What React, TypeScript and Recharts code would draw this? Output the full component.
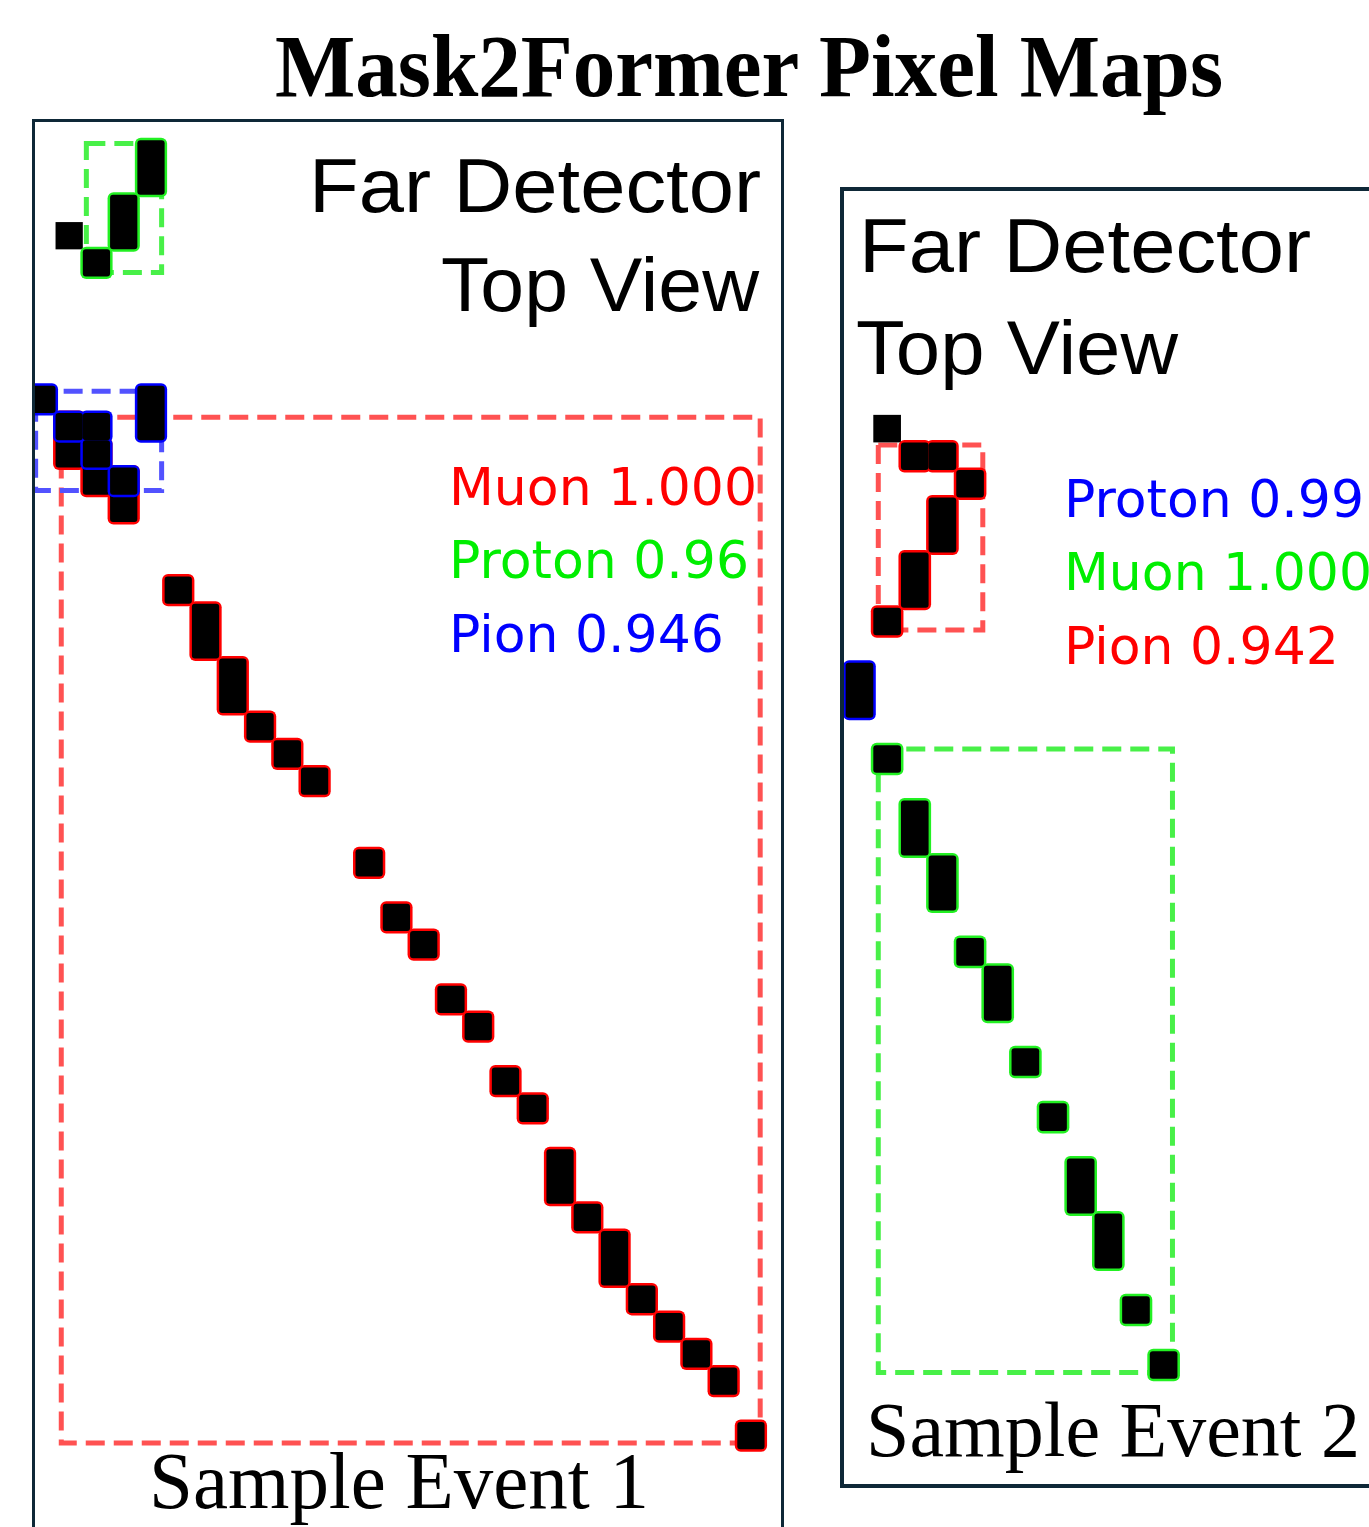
import React from 'react';
import { ScatterChart, Scatter, XAxis, YAxis, ReferenceArea } from 'recharts';

type Cell = { c: number; r: number; h: number };
type Box = { x1: number; x2: number; y1: number; y2: number };
type Mask = { cells: Cell[]; edge: string; dash: string; box?: Box };

const RED = '#ff0000';
const GREEN = '#22f022';
const BLUE = '#0000ff';
const RED_DASH = '#ff5252';
const GREEN_DASH = '#48f048';
const BLUE_DASH = '#5252ff';
const FRAME = '#0e2837';

// hits are (column, row, height in rows); rows run downwards
// --- sample event 1 ---
const ev1Loose: Cell[] = [{ c: 1, r: 3, h: 1 }];
const ev1Muon: Cell[] = [
  { c: 1, r: 10, h: 2 }, { c: 2, r: 11, h: 2 }, { c: 3, r: 12, h: 2 },
  { c: 5, r: 16, h: 1 }, { c: 6, r: 17, h: 2 }, { c: 7, r: 19, h: 2 },
  { c: 8, r: 21, h: 1 }, { c: 9, r: 22, h: 1 }, { c: 10, r: 23, h: 1 },
  { c: 12, r: 26, h: 1 }, { c: 13, r: 28, h: 1 }, { c: 14, r: 29, h: 1 },
  { c: 15, r: 31, h: 1 }, { c: 16, r: 32, h: 1 }, { c: 17, r: 34, h: 1 },
  { c: 18, r: 35, h: 1 }, { c: 19, r: 37, h: 2 }, { c: 20, r: 39, h: 1 },
  { c: 21, r: 40, h: 2 }, { c: 22, r: 42, h: 1 }, { c: 23, r: 43, h: 1 },
  { c: 24, r: 44, h: 1 }, { c: 25, r: 45, h: 1 }, { c: 26, r: 47, h: 1 },
];
const ev1Proton: Cell[] = [
  { c: 4, r: 0, h: 2 }, { c: 3, r: 2, h: 2 }, { c: 2, r: 4, h: 1 },
];
const ev1Pion: Cell[] = [
  { c: 0, r: 9, h: 1 }, { c: 4, r: 9, h: 2 }, { c: 1, r: 10, h: 1 },
  { c: 2, r: 10, h: 1 }, { c: 2, r: 11, h: 1 }, { c: 3, r: 12, h: 1 },
];
const ev1MuonBox: Box = { x1: 1.21, x2: 26.84, y1: 10.16, y2: 47.77 };
const ev1ProtonBox: Box = { x1: 2.13, x2: 4.89, y1: 0.12, y2: 4.85 };
const ev1PionBox: Box = { x1: 0.27, x2: 4.89, y1: 9.2, y2: 12.84 };
const ev1Labels = [
  { name: 'Muon', score: '1.000', color: RED },
  { name: 'Proton', score: '0.96', color: '#00ee00' },
  { name: 'Pion', score: '0.946', color: BLUE },
];

// --- sample event 2 ---
const ev2Loose: Cell[] = [{ c: 1, r: 0, h: 1 }];
const ev2Pion: Cell[] = [
  { c: 2, r: 1, h: 1 }, { c: 3, r: 1, h: 1 }, { c: 4, r: 2, h: 1 },
  { c: 3, r: 3, h: 2 }, { c: 2, r: 5, h: 2 }, { c: 1, r: 7, h: 1 },
];
const ev2Proton: Cell[] = [{ c: 0, r: 9, h: 2 }];
const ev2Muon: Cell[] = [
  { c: 1, r: 12, h: 1 }, { c: 2, r: 14, h: 2 }, { c: 3, r: 16, h: 2 },
  { c: 4, r: 19, h: 1 }, { c: 5, r: 20, h: 2 }, { c: 6, r: 23, h: 1 },
  { c: 7, r: 25, h: 1 }, { c: 8, r: 27, h: 2 }, { c: 9, r: 29, h: 2 },
  { c: 10, r: 32, h: 1 }, { c: 11, r: 34, h: 1 },
];
const ev2PionBox: Box = { x1: 1.18, x2: 4.96, y1: 1.09, y2: 7.81 };
const ev2MuonBox: Box = { x1: 1.18, x2: 11.82, y1: 12.13, y2: 34.77 };
const ev2Labels = [
  { name: 'Proton', score: '0.99', color: BLUE },
  { name: 'Muon', score: '1.000', color: '#00ee00' },
  { name: 'Pion', score: '0.942', color: RED },
];

const SANS = "'Liberation Sans', Arial, sans-serif";
const SERIF = "'Liberation Serif', 'Times New Roman', serif";
const MPL = "'DejaVu Sans', sans-serif";

const centre = (cells: Cell[]) =>
  cells.map((d) => ({ ...d, x: d.c + 0.5, y: d.r + d.h / 2 }));

interface PixelMapProps {
  masks: Mask[];
  loose: Cell[];
  pitchX: number;
  pitchY: number;
  xDomain: [number, number];
  yDomain: [number, number];
  left: number;
  top: number;
}

function PixelMap({ masks, loose, pitchX, pitchY, xDomain, yDomain, left, top }: PixelMapProps) {
  const width = (xDomain[1] - xDomain[0]) * pitchX;
  const height = (yDomain[1] - yDomain[0]) * pitchY;

  // cell glyph: coloured halo for a mask outline, black body on top
  const shape = (mode: 'edge' | 'fill' | 'plain', color = '#000') => (p: any) => {
    const w = pitchX;
    const h = p.payload.h * pitchY;
    const x = p.cx - w / 2;
    const y = p.cy - h / 2;
    if (mode === 'edge') {
      return <rect x={x - 2.5} y={y - 2.5} width={w + 5} height={h + 5} rx={6} fill={color} />;
    }
    return <rect x={x} y={y} width={w} height={h} rx={mode === 'fill' ? 3 : 0} fill="#000" />;
  };

  // dashed bounding box of a mask
  const dashedBox = (color: string) => (p: any) => (
    <rect
      x={p.x}
      y={p.y}
      width={p.width}
      height={p.height}
      fill="none"
      stroke={color}
      strokeWidth={5}
      strokeDasharray="19 9"
    />
  );

  return (
    <div style={{ position: 'absolute', left, top, width, height }}>
      <ScatterChart width={width} height={height} margin={{ top: 0, right: 0, bottom: 0, left: 0 }}>
        <XAxis type="number" dataKey="x" domain={xDomain} hide allowDataOverflow />
        <YAxis type="number" dataKey="y" domain={yDomain} hide reversed allowDataOverflow />
        <Scatter data={centre(loose)} shape={shape('plain')} isAnimationActive={false} />
        {masks.flatMap((m, i) => [
          <Scatter key={`e${i}`} data={centre(m.cells)} shape={shape('edge', m.edge)} isAnimationActive={false} />,
          <Scatter key={`f${i}`} data={centre(m.cells)} shape={shape('fill')} isAnimationActive={false} />,
        ])}
        {masks.map((m, i) =>
          m.box ? (
            <ReferenceArea key={`b${i}`} {...m.box} ifOverflow="visible" shape={dashedBox(m.dash)} />
          ) : null
        )}
      </ScatterChart>
    </div>
  );
}

function Labels({ x, y, items }: { x: number; y: number; items: { name: string; score: string; color: string }[] }) {
  return (
    <>
      {items.map((d, i) => (
        <text key={d.name} x={x} y={y + i * 73.4} fontFamily={MPL} fontSize={52} fill={d.color}>
          {`${d.name} ${d.score}`}
        </text>
      ))}
    </>
  );
}

export default function App() {
  const ev1Masks: Mask[] = [
    { cells: ev1Muon, edge: RED, dash: RED_DASH, box: ev1MuonBox },
    { cells: ev1Proton, edge: GREEN, dash: GREEN_DASH, box: ev1ProtonBox },
    { cells: ev1Pion, edge: BLUE, dash: BLUE_DASH, box: ev1PionBox },
  ];
  const ev2Masks: Mask[] = [
    { cells: ev2Pion, edge: RED, dash: RED_DASH, box: ev2PionBox },
    { cells: ev2Proton, edge: BLUE, dash: BLUE_DASH },
    { cells: ev2Muon, edge: GREEN, dash: GREEN_DASH, box: ev2MuonBox },
  ];

  return (
    <div style={{ position: 'absolute', left: 0, top: 0, width: 1369, height: 1527, overflow: 'hidden', background: '#fff' }}>
      {/* event 1 frame */}
      <div
        style={{
          position: 'absolute', left: 32, top: 119, width: 752, height: 1460,
          border: `3px solid ${FRAME}`, boxSizing: 'border-box', overflow: 'hidden',
        }}
      >
        <PixelMap
          masks={ev1Masks}
          loose={ev1Loose}
          pitchX={27.27}
          pitchY={27.27}
          xDomain={[-1, 28]}
          yDomain={[-1, 50]}
          left={-33.62}
          top={-8.57}
        />
      </div>

      {/* event 2 frame */}
      <div
        style={{
          position: 'absolute', left: 840, top: 187, width: 620, height: 1301,
          border: `4px solid ${FRAME}`, boxSizing: 'border-box', overflow: 'hidden',
        }}
      >
        <PixelMap
          masks={ev2Masks}
          loose={ev2Loose}
          pitchX={27.65}
          pitchY={27.54}
          xDomain={[-1, 19]}
          yDomain={[-9, 39]}
          left={-26}
          top={-23.86}
        />
      </div>

      <svg width={1369} height={1527} style={{ position: 'absolute', left: 0, top: 0, pointerEvents: 'none' }}>
        <text x={275} y={96} fontFamily={SERIF} fontWeight="bold" fontSize={89} textLength={948} lengthAdjust="spacingAndGlyphs" fill="#000">
          Mask2Former Pixel Maps
        </text>

        <text x={309} y={212} fontFamily={SANS} fontSize={76} textLength={452} lengthAdjust="spacingAndGlyphs" fill="#000">
          Far Detector
        </text>
        <text x={441} y={311} fontFamily={SANS} fontSize={76} textLength={318} lengthAdjust="spacingAndGlyphs" fill="#000">
          Top View
        </text>
        <Labels x={449} y={505} items={ev1Labels} />
        <text x={149} y={1508} fontFamily={SERIF} fontSize={80} textLength={500} lengthAdjust="spacingAndGlyphs" fill="#000">
          Sample Event 1
        </text>

        <text x={859} y={272} fontFamily={SANS} fontSize={76} textLength={452} lengthAdjust="spacingAndGlyphs" fill="#000">
          Far Detector
        </text>
        <text x={856} y={374} fontFamily={SANS} fontSize={76} textLength={322} lengthAdjust="spacingAndGlyphs" fill="#000">
          Top View
        </text>
        <Labels x={1064} y={516.7} items={ev2Labels} />
        <text x={866} y={1456} fontFamily={SERIF} fontSize={78} textLength={494} lengthAdjust="spacingAndGlyphs" fill="#000">
          Sample Event 2
        </text>
      </svg>
    </div>
  );
}
